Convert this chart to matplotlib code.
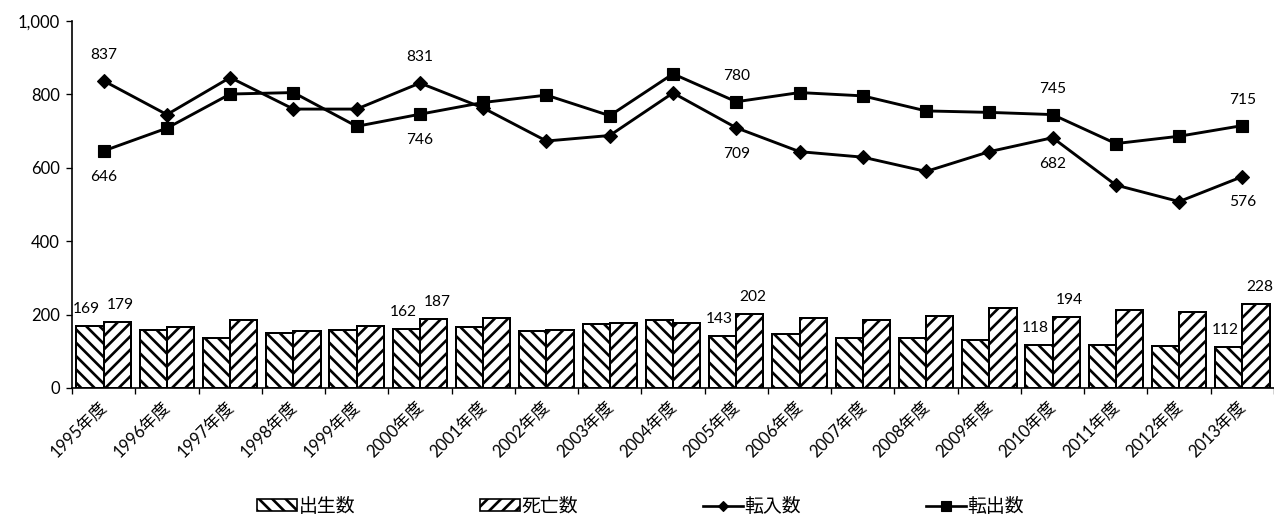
import matplotlib
matplotlib.use('Agg')
import matplotlib.pyplot as plt
import numpy as np
from matplotlib.patches import Patch
from matplotlib.lines import Line2D
from matplotlib.ticker import FuncFormatter

years = ["1995年度", "1996年度", "1997年度", "1998年度", "1999年度", "2000年度",
         "2001年度", "2002年度", "2003年度", "2004年度", "2005年度", "2006年度",
         "2007年度", "2008年度", "2009年度", "2010年度", "2011年度", "2012年度",
         "2013年度"]
births = [169, 158, 137, 151, 157, 162, 167, 154, 175, 184, 143, 148, 135, 135,
          132, 118, 118, 114, 112]
deaths = [179, 167, 185, 155, 169, 187, 190, 157, 178, 178, 202, 190, 186, 195,
          217, 194, 213, 206, 228]
inflow = [837, 745, 846, 760, 760, 831, 763, 673, 688, 804, 709, 644, 629, 590,
          644, 682, 553, 508, 576]
outflow = [646, 708, 801, 805, 713, 746, 778, 798, 742, 856, 780, 805, 796, 755,
           751, 745, 666, 686, 715]
labeled_idx = [0, 5, 10, 15, 18]
inflow_pos = {0: 'above', 5: 'above', 10: 'below', 15: 'below', 18: 'below'}
outflow_pos = {0: 'below', 5: 'below', 10: 'above', 15: 'above', 18: 'above'}
legend_labels = ["出生数", "死亡数", "転入数", "転出数"]

plt.rcParams['font.family'] = ['Lato', 'Noto Sans CJK JP', 'DejaVu Sans']
plt.rcParams['hatch.linewidth'] = 2.4
plt.rcParams['hatch.color'] = 'black'

DPI = 80
W, H = 1274, 517
fig = plt.figure(figsize=(W / DPI, H / DPI), dpi=DPI)
ax = fig.add_axes([72 / W, 1 - 388 / H, 1202 / W, (388 - 21) / H])

x = np.arange(len(years))
bw = 0.43
ax.bar(x - bw / 2, births, bw, facecolor='white', edgecolor='black',
       hatch='\\\\', linewidth=1.8, zorder=2)
ax.bar(x + bw / 2, deaths, bw, facecolor='white', edgecolor='black',
       hatch='//', linewidth=1.8, zorder=2)
ax.plot(x, inflow, color='black', lw=2.6, marker='D', ms=8.5, zorder=3)
ax.plot(x, outflow, color='black', lw=2.6, marker='s', ms=11, zorder=3)

fs = 15
lfs = 14
for i in labeled_idx:
    ax.annotate(str(births[i]), (x[i] - bw / 2, births[i]), xytext=(-3, 9),
                textcoords='offset points', ha='center', va='bottom', fontsize=lfs)
    ax.annotate(str(deaths[i]), (x[i] + bw / 2, deaths[i]), xytext=(3, 9),
                textcoords='offset points', ha='center', va='bottom', fontsize=lfs)
for series, pos in ((inflow, inflow_pos), (outflow, outflow_pos)):
    for i, p in pos.items():
        if p == 'above':
            ax.annotate(str(series[i]), (x[i], series[i]), xytext=(0, 17),
                        textcoords='offset points', ha='center', va='bottom', fontsize=lfs)
        else:
            ax.annotate(str(series[i]), (x[i], series[i]), xytext=(0, -17),
                        textcoords='offset points', ha='center', va='top', fontsize=lfs)

ax.set_xlim(-0.5, len(years) - 0.5)
ax.set_ylim(0, 1000)
ax.set_yticks(np.arange(0, 1001, 200))
ax.yaxis.set_major_formatter(FuncFormatter(lambda v, p: f"{int(v):,}"))
ax.tick_params(axis='y', direction='out', length=5, width=1.2, labelsize=fs, pad=6)

ax.set_xticks(np.arange(-0.5, len(years), 1.0))
ax.set_xticklabels([])
ax.set_xticks(x, labels=years, minor=True)
ax.tick_params(axis='x', which='major', direction='out', length=5, width=1.2)
ax.tick_params(axis='x', which='minor', length=0, labelsize=fs, pad=14)
for lbl in ax.get_xticklabels(minor=True):
    lbl.set_rotation(45)
    lbl.set_ha('right')
    lbl.set_va('center')
    lbl.set_rotation_mode('anchor')

for s in ('top', 'right'):
    ax.spines[s].set_visible(False)
for s in ('left', 'bottom'):
    ax.spines[s].set_linewidth(1.5)

handles = [
    Patch(facecolor='white', edgecolor='black', hatch='\\\\', linewidth=1.5),
    Patch(facecolor='white', edgecolor='black', hatch='//', linewidth=1.5),
    Line2D([], [], color='black', lw=2.4, marker='D', ms=7),
    Line2D([], [], color='black', lw=2.4, marker='s', ms=9),
]
fig.legend(handles, legend_labels, loc='center', bbox_to_anchor=(0.503, 0.021),
           ncol=4, frameon=False, columnspacing=6.6, handlelength=2.1,
           handleheight=0.6, handletextpad=0.1, fontsize=17)

fig.savefig('out.png', dpi=DPI, facecolor='white')
